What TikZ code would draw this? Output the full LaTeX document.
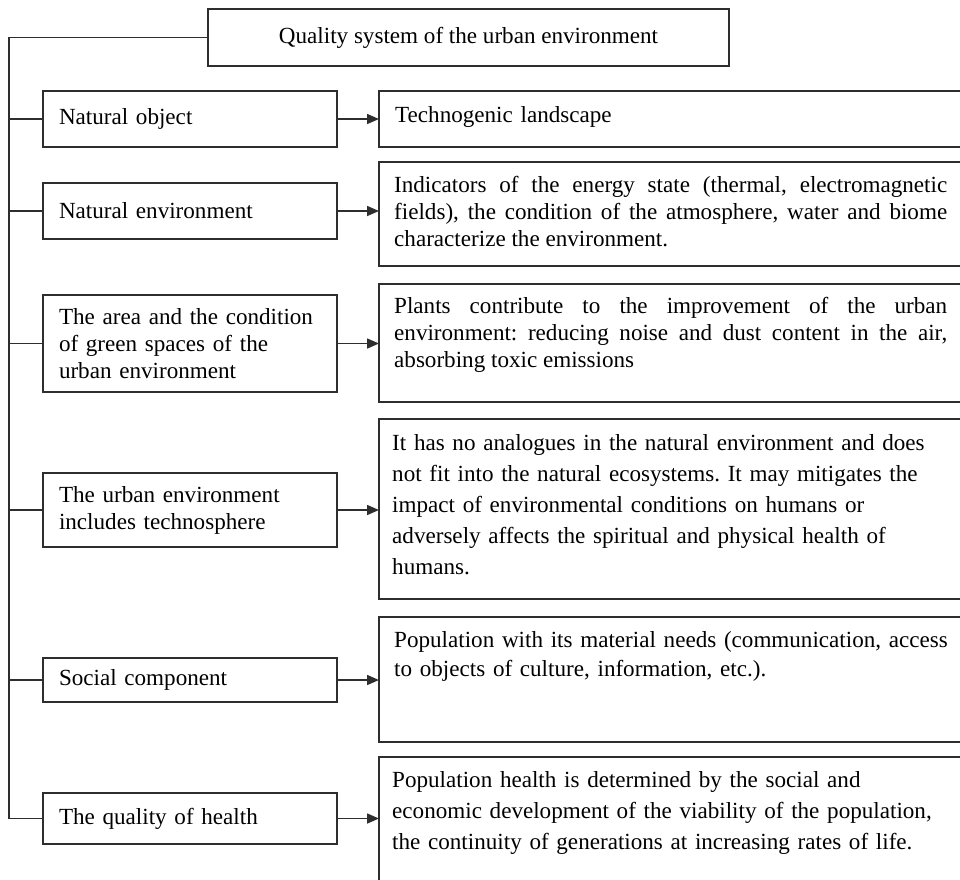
\documentclass[tikz,border=0pt]{standalone}
\usepackage{fontspec}
\setmainfont{Liberation Serif}
\usetikzlibrary{arrows.meta}
\newcommand\txtfont{\fontsize{23.1}{27}\selectfont}
\newcommand\txtwide{\fontsize{23.1}{31}\selectfont}
\newcommand\txtmid{\fontsize{23.1}{29.5}\selectfont}
\tolerance=10000
\hyphenpenalty=10000
\frenchspacing
\begin{document}
\begin{tikzpicture}[x=1pt,y=-1pt,
  ln/.style={draw=black!82, line width=1.6pt},
  boxst/.style={ln, rectangle, inner sep=0pt, outer sep=0pt, anchor=north west},
  lbox/.style={boxst, font=\txtfont, align=left, text width=262pt, inner xsep=16pt, minimum width=294pt},
  rbox/.style={boxst, minimum width=581.3pt},
  rtext/.style={anchor=base west, inner sep=0pt, text width=#1},
  arr/.style={ln, -{Triangle[length=12pt,width=10pt]}},
]
\clip (0,0) rectangle (960,879);
\fill[white] (0,0) rectangle (960,879);

% top box
\node[boxst, font=\txtfont, minimum width=521pt, minimum height=57pt] (top) at (208,9) {Quality system of the urban environment};

% left boxes
\node[lbox, minimum height=56pt] (lo) at (43,91) {Natural object};
\node[lbox, minimum height=56pt] (le) at (43,183) {Natural environment};
\node[lbox, minimum height=97pt] (lg) at (43,295) {The area and the condition\\ of green spaces of the\\ urban environment};
\node[lbox, minimum height=74pt] (lt) at (43,473) {The urban environment\\ includes technosphere};
\node[lbox, minimum height=44pt] (ls) at (43,658) {Social component};
\node[lbox, minimum height=51pt] (lh) at (43,793) {The quality of health};

% right boxes
\node[rbox, minimum height=56pt] (ro) at (379,91) {};
\node[rbox, minimum height=104pt] (re) at (379,162) {};
\node[rbox, minimum height=118pt] (rg) at (379,284) {};
\node[rbox, minimum height=180pt] (rt) at (379,419) {};
\node[rbox, minimum height=125pt] (rs) at (379,617) {};
\node[rbox, minimum height=130pt] (rh) at (379,757) {};

% right texts
\node[rtext=560pt, align=left, font=\txtfont] (tro) at (395,122) {Technogenic landscape};
\node[rtext=553pt, align=justify, font=\txtfont] (tre) at (394,192) {Indicators of the energy state (thermal, electromagnetic\linebreak fields), the condition of the atmosphere, water and biome\linebreak characterize the environment.};
\node[rtext=553pt, align=justify, font=\txtfont] (trg) at (394,313.5) {Plants contribute to the improvement of the urban\linebreak environment: reducing noise and dust content in the air,\linebreak absorbing toxic emissions};
\node[rtext=560pt, align=left, font=\txtwide] (trt) at (392,450) {It has no analogues in the natural environment and does\\ not fit into the natural ecosystems. It may mitigates the\\ impact of environmental conditions on humans or\\ adversely affects the spiritual and physical health of\\ humans.};
\node[rtext=560pt, align=left, font=\txtmid] (trs) at (394,647) {Population with its material needs (communication, access\\ to objects of culture, information, etc.).};
\node[rtext=560pt, align=left, font=\txtwide] (trh) at (392,787) {Population health is determined by the social and\\ economic development of the viability of the population,\\ the continuity of generations at increasing rates of life.};

% trunk and branches
\coordinate (trunk) at (9,0);
\draw[ln] (top.west) -- (top.west -| trunk) |- (lh.west);
\foreach \n in {lo,le,lg,lt,ls}
  \draw[ln] (\n.west) -- (\n.west -| trunk);

% arrows
\draw[arr] (lo.east) -- (lo.east -| ro.west);
\draw[arr] (le.east) -- (le.east -| re.west);
\draw[arr] (lg.east) -- (lg.east -| rg.west);
\draw[arr] (lt.east) -- (lt.east -| rt.west);
\draw[arr] (ls.east) -- (ls.east -| rs.west);
\draw[arr] (lh.east) -- (lh.east -| rh.west);
\end{tikzpicture}
\end{document}
